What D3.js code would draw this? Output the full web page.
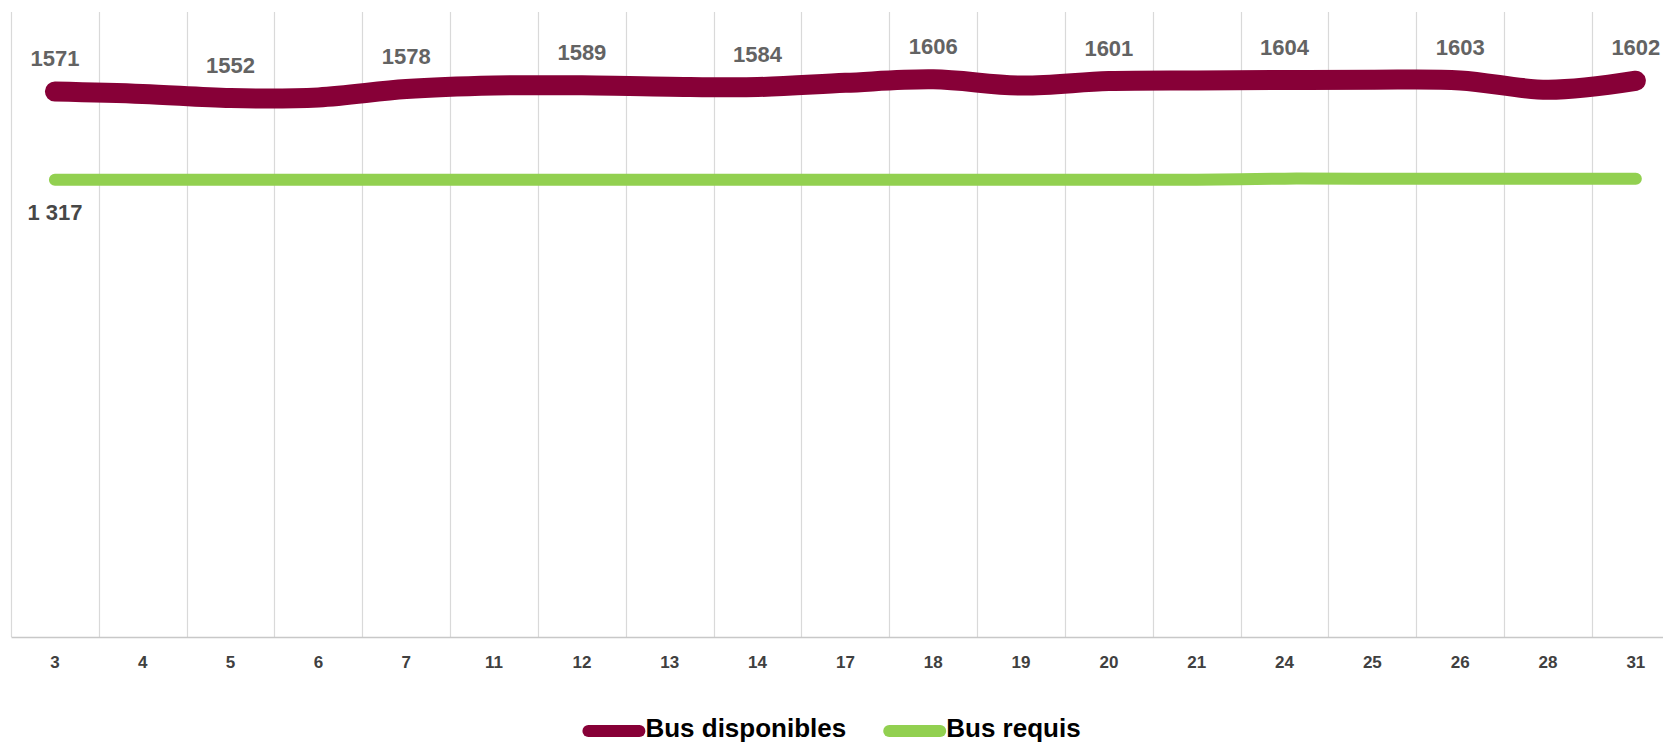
<!DOCTYPE html>
<html>
<head>
<meta charset="utf-8">
<script src="https://cdn.jsdelivr.net/npm/d3@7"></script>
<style>
  body { margin: 0; background: #fff; }
  svg { display: block; overflow: hidden; }
</style>
</head>
<body>
<div id="chart"></div>
<script>
// Days of the month (x categories)
const days = ["3", "4", "5", "6", "7", "11", "12", "13", "14", "17", "18", "19", "20", "21", "24", "25", "26", "28", "31"];

// Series values
const busDisponibles = [1571, 1564, 1552, 1554, 1578, 1588, 1589, 1585, 1584, 1596, 1606, 1588, 1601, 1603, 1604, 1605, 1603, 1576, 1602];
const busRequis = [1317, 1317, 1317, 1317, 1317, 1317, 1317, 1317, 1317, 1317, 1317, 1317, 1317, 1317, 1320, 1320, 1320, 1320, 1320];

const yDomain = [0, 1800];

const seriesNames = ["Bus disponibles", "Bus requis"];
const seriesColors = ["#870037", "#92d050"];

function drawChart(classId) {
  const W = 1663, H = 744;
  const margin = { top: 12, left: 11, bottom: 107 };
  // the plot is wider than the window, last band is cut off on the right
  const width = 19 * 87.83,
    height = H - margin.top - margin.bottom;

  const root = d3.select(classId)
    .append("svg")
    .attr("width", W)
    .attr("height", H);

  const svg = root.append("g")
    .attr("transform", `translate(${margin.left}, ${margin.top})`);

  // 1) scales
  const x = d3.scaleBand()
    .domain(days)
    .range([0, width]);

  const y = d3.scaleLinear()
    .domain(yDomain)
    .range([height, 0]);

  const fr = d3.formatLocale({ decimal: ",", thousands: "\u00a0", grouping: [3], currency: ["", " €"] });

  // 2) vertical gridlines between categories
  svg.append("g")
    .selectAll("line")
    .data(days)
    .join("line")
    .attr("x1", d => Math.round(x(d)) + 0.5)
    .attr("x2", d => Math.round(x(d)) + 0.5)
    .attr("y1", 0)
    .attr("y2", height)
    .attr("stroke", "#d9d9d9")
    .attr("stroke-width", 1.2);

  // 3) x axis
  const xAxis = svg.append("g")
    .attr("transform", `translate(0, ${height})`)
    .call(d3.axisBottom(x).tickSize(0).tickPadding(19));

  xAxis.select(".domain")
    .attr("stroke", "#c8c8c8")
    .attr("stroke-width", 1.5);

  xAxis.selectAll("text")
    .attr("fill", "#404040")
    .style("font-family", "'Liberation Sans', Arial, sans-serif")
    .style("font-weight", "bold")
    .style("font-size", "17px");

  // 4) lines
  const line = d3.line()
    .x((d, i) => x(days[i]) + x.bandwidth() / 2)
    .y(d => y(d))
    .curve(d3.curveCatmullRom.alpha(0.5));

  svg.append("path")
    .datum(busRequis)
    .attr("fill", "none")
    .attr("stroke", seriesColors[1])
    .attr("stroke-width", 12)
    .attr("stroke-linecap", "round")
    .attr("d", line);

  svg.append("path")
    .datum(busDisponibles)
    .attr("fill", "none")
    .attr("stroke", seriesColors[0])
    .attr("stroke-width", 20)
    .attr("stroke-linecap", "round")
    .attr("d", line);

  // 5) data labels (every other point for the available buses)
  svg.selectAll(".lbl-dispo")
    .data(busDisponibles.map((v, i) => ({ v, i })).filter(d => d.i % 2 === 0))
    .join("text")
    .attr("class", "lbl-dispo")
    .attr("x", d => x(days[d.i]) + x.bandwidth() / 2)
    .attr("y", d => y(d.v) - 33)
    .attr("text-anchor", "middle")
    .attr("dominant-baseline", "central")
    .attr("fill", "#636363")
    .style("font-family", "'Liberation Sans', Arial, sans-serif")
    .style("font-weight", "bold")
    .style("font-size", "22px")
    .text(d => d.v);

  svg.append("text")
    .attr("x", x(days[0]) + x.bandwidth() / 2)
    .attr("y", y(busRequis[0]) + 33)
    .attr("text-anchor", "middle")
    .attr("dominant-baseline", "central")
    .attr("fill", "#474747")
    .style("font-family", "'Liberation Sans', Arial, sans-serif")
    .style("font-weight", "bold")
    .style("font-size", "22px")
    .text(fr.format(",d")(busRequis[0]));

  // 6) legend, centred at the bottom
  const legend = root.append("g");
  let pos = 0;
  seriesNames.forEach((name, i) => {
    const item = legend.append("g").attr("transform", `translate(${pos}, 0)`);
    item.append("line")
      .attr("x1", 6)
      .attr("x2", 57)
      .attr("y1", -6)
      .attr("y2", -6)
      .attr("stroke", seriesColors[i])
      .attr("stroke-width", 12)
      .attr("stroke-linecap", "round");
    const t = item.append("text")
      .attr("x", 63)
      .attr("y", 0)
      .attr("fill", "#000")
      .style("font-family", "'Liberation Sans', Arial, sans-serif")
      .style("font-weight", "bold")
      .style("font-size", "26px")
      .text(name);
    pos += 63 + t.node().getComputedTextLength() + 37;
  });
  const legendWidth = pos - 37;
  // baseline of the legend text
  legend.attr("transform", `translate(${(W - legendWidth) / 2}, 737)`);
}

drawChart("#chart");
</script>
</body>
</html>
